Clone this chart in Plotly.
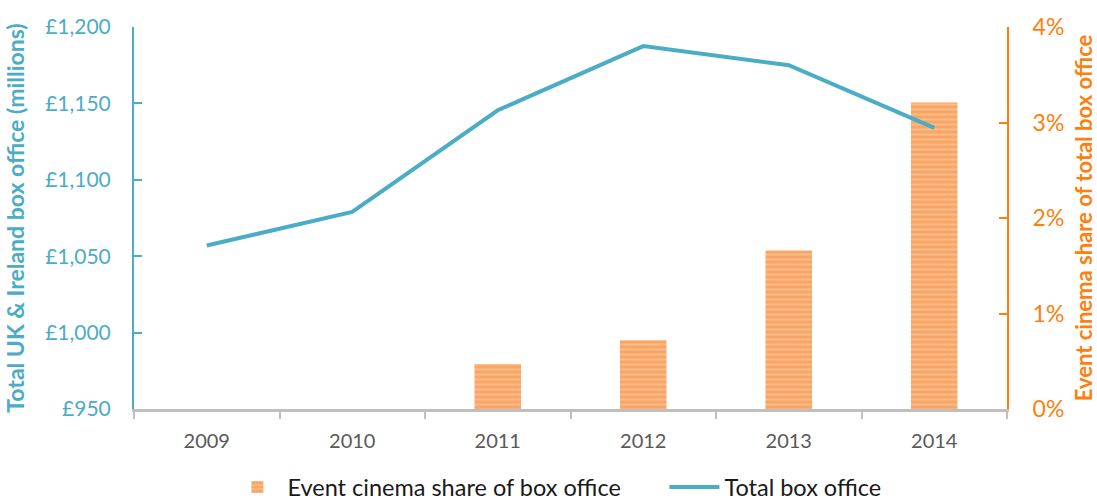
import plotly.graph_objects as go

years = ["2009", "2010", "2011", "2012", "2013", "2014"]
box_office = [1057, 1079, 1145.5, 1187.5, 1175, 1134]
event_share = [None, None, 0.47, 0.72, 1.66, 3.21]

left_ticks = [950, 1000, 1050, 1100, 1150, 1200]
left_labels = ["£950", "£1,000", "£1,050", "£1,100", "£1,150", "£1,200"]
right_ticks = [0, 1, 2, 3, 4]
right_labels = ["0%", "1%", "2%", "3%", "4%"]

BLUE = "#4BACC6"
ORANGE = "#FF7F0E"
FONT = "Lato"

fig = go.Figure()
fig.add_trace(go.Bar(
    x=years, y=event_share, name="Event cinema share of box office",
    yaxis="y", width=0.32, legendwidth=372,
    marker=dict(color="#F9A565", line=dict(width=0),
                pattern=dict(shape="-", fgcolor="#FDD3B0", size=5, solidity=0.4)),
))
fig.add_trace(go.Scatter(
    x=years, y=box_office, name="Total box office", yaxis="y2",
    mode="lines", line=dict(color=BLUE, width=4),
))

fig.update_layout(
    width=1097, height=503,
    margin=dict(l=134, r=90, t=27, b=94, autoexpand=False),
    plot_bgcolor="white", paper_bgcolor="white",
    font=dict(family=FONT),
    showlegend=True,
    legend=dict(orientation="h", x=0.107, xanchor="left", y=-0.205, yanchor="middle",
                font=dict(size=23.5, color="#1a1a1a"), itemwidth=50,
                traceorder="normal"),
    xaxis=dict(type="category", showline=True, linecolor="#BFBFBF", linewidth=3,
               ticks="outside", tickson="boundaries", ticklen=7, tickcolor="#BFBFBF", tickwidth=2,
               tickfont=dict(size=20, color="#595959"), showgrid=False, automargin=False,
               ticklabelstandoff=12),
    yaxis=dict(side="right", range=[0, 4], tickvals=right_ticks, ticktext=right_labels,
               showgrid=False, zeroline=False, showline=True, linecolor=ORANGE, linewidth=2,
               ticks="inside", ticklen=8, tickcolor=ORANGE, tickwidth=2,
               tickfont=dict(size=23, color=ORANGE), automargin=False, ticklabelstandoff=19,
               title=dict(text="<b>Event cinema share of total box office</b>",
                          font=dict(size=22, color=ORANGE), standoff=18)),
    yaxis2=dict(side="left", overlaying="y", range=[950, 1200],
                tickvals=left_ticks, ticktext=left_labels,
                showgrid=False, zeroline=False, showline=True, linecolor=BLUE, linewidth=2,
                ticks="inside", ticklen=8, tickcolor=BLUE, tickwidth=2,
                tickfont=dict(size=21, color=BLUE), automargin=False, ticklabelstandoff=17,
                title=dict(text="<b>Total UK & Ireland box office (millions)</b>",
                           font=dict(size=23, color=BLUE), standoff=14)),
    bargap=0.68,
)

fig.write_html("out.html", config={"displayModeBar": False},
               post_script="document.body.style.margin='0';")
